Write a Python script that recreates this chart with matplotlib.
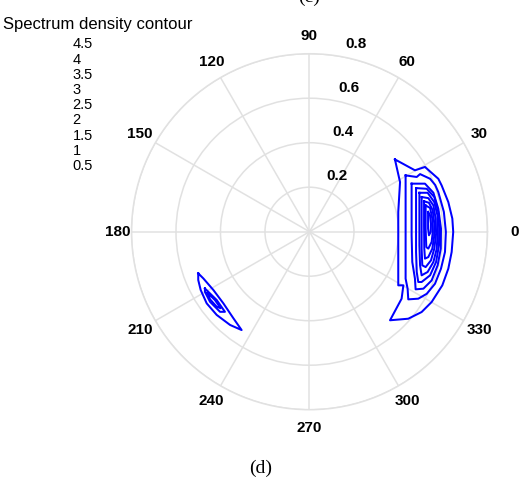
import numpy as np
import matplotlib
matplotlib.use("Agg")
import matplotlib.pyplot as plt

# ---------------- data ----------------
levels = ["4.5", "4", "3.5", "3", "2.5", "2", "1.5", "1", "0.5"]
angle_ticks = [0, 30, 60, 90, 120, 150, 180, 210, 240, 270, 300, 330]
radial_ticks = [0.2, 0.4, 0.6, 0.8]
r_max = 0.8

# contour lines, cartesian (x, y) in radius units, main lobe near 0 deg
c05_x = [0.384, 0.474, 0.519, 0.579, 0.594, 0.624, 0.642, 0.646, 0.639, 0.624, 0.597, 0.549, 0.504, 0.444, 0.362, 0.414, 0.422, 0.399, 0.399, 0.399, 0.407, 0.384]
c05_y = [0.325, 0.276, 0.291, 0.238, 0.208, 0.133, 0.059, -0.001, -0.091, -0.166, -0.241, -0.316, -0.361, -0.391, -0.398, -0.301, -0.241, -0.241, -0.091, 0.089, 0.223, 0.325]
c10_x = [0.432, 0.482, 0.497, 0.542, 0.565, 0.579, 0.604, 0.613, 0.609, 0.591, 0.564, 0.527, 0.489, 0.444, 0.441, 0.432, 0.432, 0.432, 0.432]
c10_y = [0.253, 0.246, 0.259, 0.238, 0.210, 0.178, 0.089, -0.001, -0.091, -0.166, -0.234, -0.279, -0.301, -0.304, -0.256, -0.211, -0.016, 0.133, 0.253]
c15_x = [0.459, 0.519, 0.557, 0.579, 0.591, 0.590, 0.576, 0.549, 0.512, 0.477, 0.474, 0.462, 0.459, 0.459, 0.459]
c15_y = [0.216, 0.216, 0.175, 0.103, 0.014, -0.076, -0.151, -0.219, -0.256, -0.259, -0.211, -0.136, -0.016, 0.133, 0.216]
c20_x = [0.479, 0.527, 0.561, 0.579, 0.583, 0.582, 0.569, 0.542, 0.504, 0.489, 0.482, 0.479, 0.479, 0.479]
c20_y = [0.196, 0.193, 0.156, 0.089, 0.014, -0.061, -0.136, -0.196, -0.226, -0.226, -0.181, -0.091, 0.059, 0.196]
c25_x = [0.494, 0.531, 0.561, 0.575, 0.576, 0.572, 0.557, 0.531, 0.504, 0.497, 0.494, 0.494, 0.494]
c25_y = [0.175, 0.175, 0.133, 0.074, -0.001, -0.076, -0.136, -0.181, -0.196, -0.151, -0.061, 0.089, 0.175]
c30_x = [0.504, 0.534, 0.557, 0.567, 0.569, 0.561, 0.546, 0.522, 0.507, 0.504, 0.504, 0.504]
c30_y = [0.156, 0.151, 0.118, 0.059, -0.009, -0.076, -0.129, -0.159, -0.151, -0.076, 0.059, 0.156]
c35_x = [0.515, 0.537, 0.554, 0.561, 0.560, 0.552, 0.534, 0.519, 0.516, 0.515, 0.515]
c35_y = [0.137, 0.130, 0.096, 0.036, -0.024, -0.076, -0.114, -0.121, -0.076, 0.029, 0.137]
c40_x = [0.522, 0.542, 0.552, 0.554, 0.549, 0.534, 0.525, 0.522, 0.522]
c40_y = [0.118, 0.107, 0.059, -0.001, -0.046, -0.076, -0.069, 0.014, 0.118]
c45_x = [0.533, 0.542, 0.546, 0.545, 0.537, 0.533, 0.533]
c45_y = [0.089, 0.074, 0.036, -0.001, -0.016, 0.014, 0.089]

# secondary lobe near 210 deg
s05_x = [-0.500, -0.477, -0.432, -0.387, -0.342, -0.305, -0.357, -0.417, -0.462, -0.489, -0.500, -0.500]
s05_y = [-0.187, -0.210, -0.262, -0.322, -0.389, -0.442, -0.419, -0.374, -0.322, -0.262, -0.217, -0.187]
s10_x = [-0.470, -0.417, -0.380, -0.402, -0.447, -0.470, -0.470]
s10_y = [-0.255, -0.307, -0.360, -0.360, -0.315, -0.270, -0.255]
s15_x = [-0.459, -0.425, -0.399, -0.417, -0.447, -0.459]
s15_y = [-0.274, -0.307, -0.344, -0.337, -0.304, -0.274]

contours = [(c05_x, c05_y), (c10_x, c10_y), (c15_x, c15_y), (c20_x, c20_y),
            (c25_x, c25_y), (c30_x, c30_y), (c35_x, c35_y), (c40_x, c40_y),
            (c45_x, c45_y), (s05_x, s05_y), (s10_x, s10_y), (s15_x, s15_y)]

# ---------------- figure ----------------
W, H = 523, 487
fig = plt.figure(figsize=(W / 100, H / 100), dpi=100)
fig.patch.set_facecolor("white")

ax = fig.add_axes([0.2514, 0.1587, 0.6807, 0.731], projection="polar")
ax.set_ylim(0, r_max)
ax.set_thetagrids(angle_ticks, labels=[""] * len(angle_ticks))
ax.set_rgrids(radial_ticks, labels=[""] * len(radial_ticks))
grid_col = "#e1e1e1"
ax.grid(True, color=grid_col, linewidth=1.1)
ax.spines["polar"].set_color(grid_col)
ax.spines["polar"].set_linewidth(1.1)
ax.tick_params(length=0)

for xs, ys in contours:
    xs = np.asarray(xs)
    ys = np.asarray(ys)
    th = np.arctan2(ys, xs)
    rr = np.hypot(xs, ys)
    ax.plot(th, rr, color="#0000ff", linewidth=1.45, zorder=5, clip_on=False,
            solid_joinstyle="round")

# angle labels
lbl_font = dict(fontsize=11, fontweight="bold", family="Liberation Sans",
                ha="center", va="center")
for a in angle_ticks:
    rpos = 1.1 * r_max
    if a == 0:
        rpos = 0.924
    elif a == 180:
        rpos = 0.861
    ax.text(np.deg2rad(a), rpos, str(a), **lbl_font)

# radial labels
for rv in radial_ticks:
    x = rv * np.cos(np.deg2rad(82)) + 0.096
    y = rv * np.sin(np.deg2rad(82)) + 0.052
    ax.text(np.arctan2(y, x), np.hypot(x, y), f"{rv:g}", **lbl_font)

# title / level list
fig.text(3 / W, 1 - 29.3 / H, "Spectrum density contour", fontsize=12,
         family="Liberation Sans", ha="left", va="baseline")
for i, lv in enumerate(levels):
    yc = 44.3 + i * 15.2
    fig.text(72.7 / W, 1 - yc / H, lv, fontsize=10.5, family="Liberation Sans",
             ha="left", va="center")

fig.text(261 / W, 1 - 468 / H, "(d)", fontsize=14, family="Liberation Serif",
         ha="center", va="center")
fig.text(309 / W, 1 - 2 / H, "(c)", fontsize=14, family="Liberation Serif",
         ha="center", va="baseline")

fig.savefig("out.png", dpi=100)
